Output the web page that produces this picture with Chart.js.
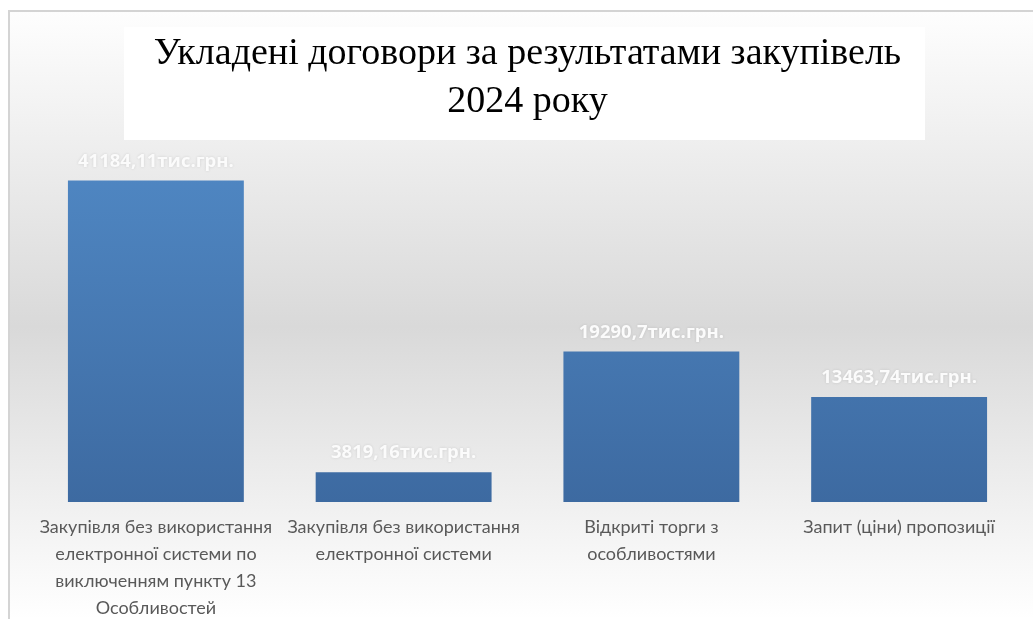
<!DOCTYPE html>
<html>
<head>
<meta charset="utf-8">
<script src="https://cdn.jsdelivr.net/npm/chart.js@4.4.1/dist/chart.umd.min.js"></script>
<style>
  html, body { margin: 0; padding: 0; background: #ffffff; }
  #wrap { width: 1033px; height: 619px; position: relative; }
</style>
</head>
<body>
<div id="wrap"><canvas id="procCanvas" width="1033" height="619"></canvas></div>
<script>
// data
var titleLines = ["Укладені договори за результатами закупівель", "2024 року"];
var categories = [
    ["Закупівля без використання", "електронної системи по", "виключенням пункту 13", "Особливостей"],
    ["Закупівля без використання", "електронної системи"],
    ["Відкриті торги з", "особливостями"],
    ["Запит (ціни) пропозиції"]
];
var amounts = [41184.11, 3819.16, 19290.7, 13463.74];
var amountLabels = ["41184,11тис.грн.", "3819,16тис.грн.", "19290,7тис.грн.", "13463,74тис.грн."];

var backdrop = {
    id: 'backdrop',
    beforeDraw: function(chart) {
        var ctx = chart.ctx;
        var w = chart.width, h = chart.height;
        ctx.save();
        ctx.fillStyle = '#ffffff';
        ctx.fillRect(0, 0, w, h);
        var g = ctx.createLinearGradient(0, 10, 0, h);
        g.addColorStop(0, '#fefefe');
        g.addColorStop(0.52, '#d9d9d9');
        g.addColorStop(1, '#ffffff');
        ctx.fillStyle = g;
        ctx.fillRect(9, 11, w - 9, h - 11);
        // outer frame
        ctx.strokeStyle = '#d4d4d4';
        ctx.lineWidth = 2;
        ctx.beginPath();
        ctx.moveTo(9, h);
        ctx.lineTo(9, 11);
        ctx.lineTo(w, 11);
        ctx.stroke();
        // white box behind the title
        ctx.fillStyle = '#ffffff';
        ctx.fillRect(124, 27, 801, 113);
        ctx.restore();
    }
};

var barValues = {
    id: 'barValues',
    afterDatasetsDraw: function(chart) {
        var ctx = chart.ctx;
        var meta = chart.getDatasetMeta(0);
        ctx.save();
        ctx.font = 'bold 18.5px "Open Sans"';
        ctx.textAlign = 'center';
        ctx.textBaseline = 'middle';
        ctx.fillStyle = '#fbfbfb';
        ctx.shadowColor = 'rgba(0,0,0,0.12)';
        ctx.shadowBlur = 3;
        meta.data.forEach(function(bar, i) {
            ctx.fillText(amountLabels[i], bar.x, bar.y - 19);
        });
        ctx.restore();
    }
};

var chartLabels = categories;
var config = {
    type: 'bar',
    data: {
        labels: chartLabels,
        datasets: [{
            data: amounts,
            backgroundColor: function(c) {
                var area = c.chart.chartArea;
                if (!area) return '#4f81bd';
                var g = c.chart.ctx.createLinearGradient(0, area.top, 0, area.bottom);
                g.addColorStop(0, '#5088c4');
                g.addColorStop(1, '#3d6aa1');
                return g;
            },
            borderWidth: 0,
            categoryPercentage: 1,
            barPercentage: 0.71
        }]
    },
    options: {
        responsive: false,
        animation: false,
        layout: { padding: { left: 32, right: 10, top: 0, bottom: -15 } },
        plugins: {
            legend: { display: false },
            tooltip: { enabled: false },
            title: {
                display: true,
                text: titleLines,
                color: '#000000',
                font: { family: '"Liberation Serif"', size: 38, weight: 'normal', lineHeight: 1.26 },
                padding: { top: 30, bottom: 25 }
            }
        },
        scales: {
            x: {
                grid: { display: false, drawTicks: false },
                border: { display: false },
                ticks: {
                    color: '#595959',
                    padding: 12,
                    maxRotation: 0,
                    autoSkip: false,
                    font: { family: 'Lato', size: 18, lineHeight: 1.5 }
                }
            },
            y: {
                display: false,
                min: 0,
                max: 45000
            }
        }
    },
    plugins: [backdrop, barValues]
};
new Chart(document.getElementById('procCanvas'), config);
</script>
</body>
</html>
